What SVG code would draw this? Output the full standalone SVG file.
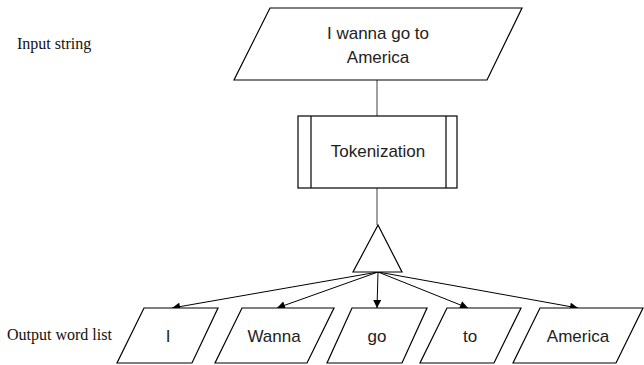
<svg xmlns="http://www.w3.org/2000/svg" width="644" height="365" viewBox="0 0 644 365">
<defs>
<marker id="ah" viewBox="0 0 10 10" refX="10" refY="5" markerWidth="10" markerHeight="8" markerUnits="userSpaceOnUse" orient="auto">
<path d="M0,0 L10,5 L0,10 z" fill="#000"/>
</marker>
<style>
.shape{fill:#fff;stroke:#000;stroke-width:1.2}
.lbl{font-family:"Liberation Sans",Arial,sans-serif;font-size:17px;fill:#222;text-anchor:middle}
.side{font-family:"Liberation Serif","Times New Roman",serif;font-size:16px;fill:#111}
.gl{stroke:#7f7f7f;stroke-width:1.5;fill:none}
.ar{stroke:#000;stroke-width:1;fill:none;marker-end:url(#ah)}
</style>
</defs>
<rect width="644" height="365" fill="#fff"/>
<text class="side" x="17" y="49">Input string</text>
<text class="side" x="7" y="340">Output word list</text>
<g id="connectors">
<line class="gl" x1="377" y1="80" x2="377" y2="116"/>
<line class="gl" x1="377" y1="188" x2="377" y2="225"/>
<line class="ar" x1="378" y1="272" x2="172" y2="308"/>
<line class="ar" x1="378" y1="272" x2="277" y2="308"/>
<line class="ar" x1="378" y1="272" x2="377" y2="308"/>
<line class="ar" x1="378" y1="272" x2="468" y2="308"/>
<line class="ar" x1="378" y1="272" x2="578" y2="308"/>
</g>
<g id="input">
<polygon class="shape" points="270,8 522,8 487,80 234,80"/>
<text class="lbl" x="378" y="39">I wanna go to</text>
<text class="lbl" x="378" y="63">America</text>
</g>
<g id="tokenization">
<rect class="shape" x="298" y="116" width="159" height="72"/>
<line class="shape" x1="311" y1="116" x2="311" y2="188"/>
<line class="shape" x1="446" y1="116" x2="446" y2="188"/>
<text class="lbl" x="378" y="157">Tokenization</text>
</g>
<g id="merge">
<polygon class="shape" points="378,225 402,272 353,272"/>
</g>
<g id="w-I">
<polygon class="shape" points="144,308 218,308 192,363 117,363"/>
<text class="lbl" x="168" y="342">I</text>
</g>
<g id="w-Wanna">
<polygon class="shape" points="242,308 334,308 307,363 215,363"/>
<text class="lbl" x="274" y="342">Wanna</text>
</g>
<g id="w-go">
<polygon class="shape" points="352,308 427,308 402,363 327,363"/>
<text class="lbl" x="377" y="342">go</text>
</g>
<g id="w-to">
<polygon class="shape" points="447,308 521,308 494,363 420,363"/>
<text class="lbl" x="470" y="342">to</text>
</g>
<g id="w-America">
<polygon class="shape" points="540,308 643,308 616,363 513,363"/>
<text class="lbl" x="578" y="342">America</text>
</g>
</svg>
